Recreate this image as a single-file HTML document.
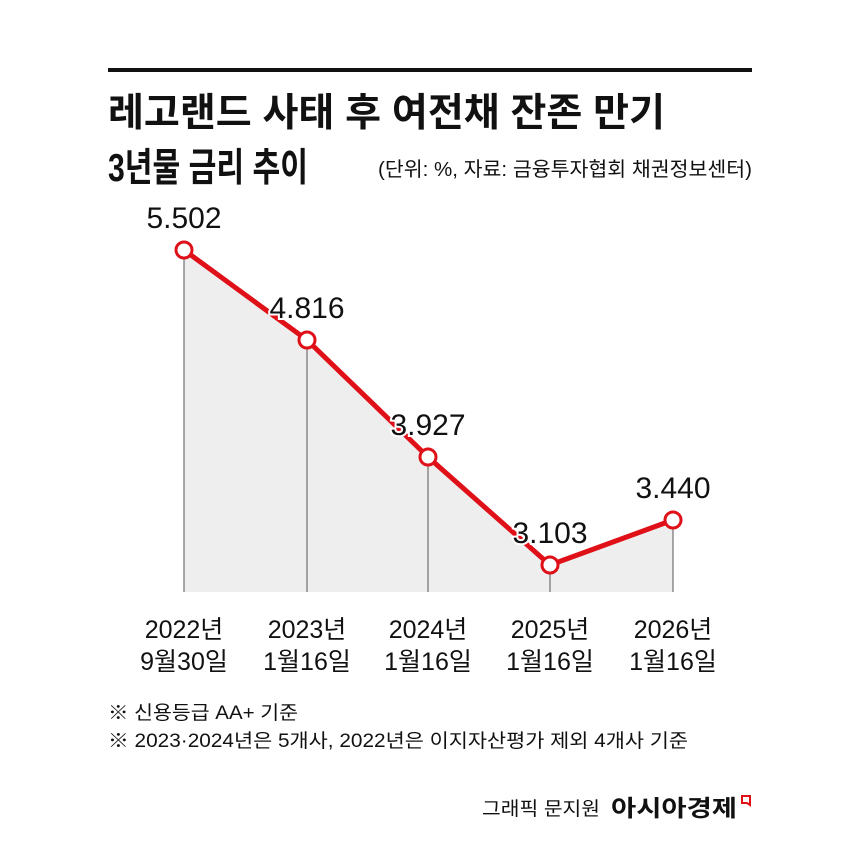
<!DOCTYPE html>
<html><head><meta charset="utf-8"><style>
html,body{margin:0;padding:0;background:#fff;}
svg{display:block;font-family:"Liberation Sans","Noto Sans CJK KR",sans-serif;}
</style></head><body>
<svg width="861" height="861" viewBox="0 0 861 861" xmlns="http://www.w3.org/2000/svg">
<rect width="861" height="861" fill="#fff"/>
<rect x="108" y="68" width="644" height="4" fill="#111"/>
<text x="108" y="126" font-size="39" font-weight="bold" fill="#111" textLength="557" lengthAdjust="spacingAndGlyphs">레고랜드 사태 후 여전채 잔존 만기</text>
<text x="108" y="181" font-size="39" font-weight="bold" fill="#111" textLength="200" lengthAdjust="spacingAndGlyphs">3년물 금리 추이</text>
<text x="378" y="176" font-size="20" fill="#111" textLength="374" lengthAdjust="spacingAndGlyphs">(단위: %, 자료: 금융투자협회 채권정보센터)</text>
<polygon points="184,250 307,340 428,457 550,565 673,520 673,592 184,592" fill="#eeeeee"/>
<g stroke="#555" stroke-width="1">
<line x1="184" y1="250" x2="184" y2="592"/><line x1="307" y1="340" x2="307" y2="592"/><line x1="428" y1="457" x2="428" y2="592"/><line x1="550" y1="565" x2="550" y2="592"/><line x1="673" y1="520" x2="673" y2="592"/>
</g>
<polyline points="184,250 307,340 428,457 550,565 673,520" fill="none" stroke="#e01018" stroke-width="5" stroke-linejoin="round"/>
<g fill="#fff" stroke="#e01018" stroke-width="3">
<circle cx="184" cy="250" r="8"/><circle cx="307" cy="340" r="8"/><circle cx="428" cy="457" r="8"/><circle cx="550" cy="565" r="8"/><circle cx="673" cy="520" r="8"/>
</g>
<g font-size="30" fill="#111" text-anchor="middle" stroke="#fff" stroke-width="4" paint-order="stroke">
<text x="184" y="228">5.502</text><text x="307" y="318">4.816</text><text x="428" y="435">3.927</text><text x="550" y="543">3.103</text><text x="673" y="498">3.440</text>
</g>
<g font-size="25" fill="#111" text-anchor="middle">
<text x="184" y="638">2022년</text><text x="184" y="670">9월30일</text>
<text x="307" y="638">2023년</text><text x="307" y="670">1월16일</text>
<text x="428" y="638">2024년</text><text x="428" y="670">1월16일</text>
<text x="550" y="638">2025년</text><text x="550" y="670">1월16일</text>
<text x="673" y="638">2026년</text><text x="673" y="670">1월16일</text>
</g>
<text x="108" y="719" font-size="19" fill="#111" textLength="190" lengthAdjust="spacingAndGlyphs">※ 신용등급 AA+ 기준</text>
<text x="108" y="747" font-size="19" fill="#111" textLength="580" lengthAdjust="spacingAndGlyphs">※ 2023·2024년은 5개사, 2022년은 이지자산평가 제외 4개사 기준</text>
<text x="482" y="815" font-size="19" fill="#111" textLength="118" lengthAdjust="spacingAndGlyphs">그래픽 문지원</text>
<text x="611" y="816" font-size="23" font-weight="bold" fill="#111" textLength="126" lengthAdjust="spacingAndGlyphs">아시아경제</text>
<path d="M742 796 h8 v9 l-3 -2 h-5 z" fill="none" stroke="#e01018" stroke-width="2"/>
</svg>
</body></html>
